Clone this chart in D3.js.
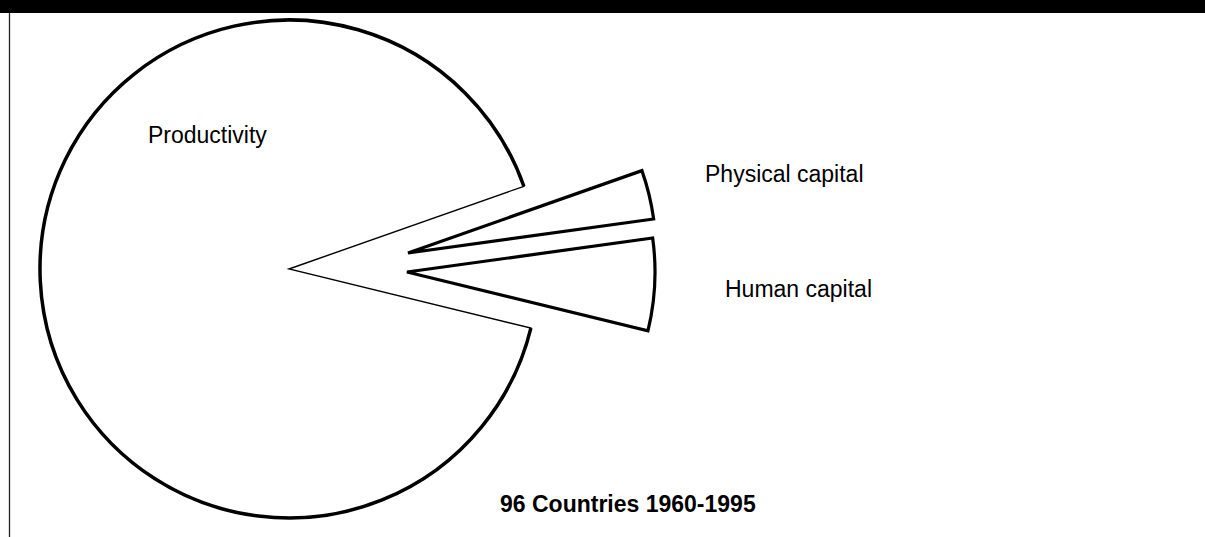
<!DOCTYPE html>
<html>
<head>
<meta charset="utf-8" />
<script src="https://d3js.org/d3.v7.min.js"></script>
<style>
	body { margin: 0; background: #fff; }
	text { font-family: "Liberation Sans", Arial, sans-serif; fill: #000; }
</style>
</head>
<body>
<div id="chart"></div>
<script>
	// shares of growth explained (percent)
	var categories = ["Physical capital", "Human capital", "Productivity"];
	var shares = [3.2, 6.0, 90.8];
	var title = "96 Countries 1960-1995";

	var width = 1205, height = 537;
	var cx = 289, cy = 269, radius = 249, explodedRadius = 248;

	// how far each slice is pulled out of the pie (px), and where its label sits relative to the centre
	var explode = [[119, -16], [118, 3], [0, 0]];
	var labelOffset = [[416, -87], [436, 28], [-141, -126]];

	var svg = d3.select("#chart")
		.append("svg")
		.attr("width", width)
		.attr("height", height);

	// black band on top and the thin frame line on the left
	svg.append("rect")
		.attr("x", 0).attr("y", 0)
		.attr("width", width).attr("height", 13)
		.attr("fill", "#000");
	svg.append("line")
		.attr("x1", 9.5).attr("x2", 9.5)
		.attr("y1", 13).attr("y2", height)
		.attr("stroke", "#222")
		.attr("stroke-width", 1.3);

	var start = 70.6 * Math.PI / 180;
	var pie = d3.pie()
		.sort(null)
		.value(function (d) { return d; })
		.startAngle(start)
		.endAngle(start + 2 * Math.PI);

	var slices = pie(shares);

	var g = svg.append("g")
		.attr("transform", "translate(" + cx + "," + cy + ")");

	var mainArc = d3.arc().innerRadius(0).outerRadius(radius);
	var rimArc = d3.arc().innerRadius(radius).outerRadius(radius);
	var smallArc = d3.arc().innerRadius(0).outerRadius(explodedRadius);

	g.selectAll(".slice")
		.data(slices)
		.enter()
		.append("path")
		.attr("class", "slice")
		.attr("transform", function (d, i) { return "translate(" + explode[i][0] + "," + explode[i][1] + ")"; })
		.attr("d", function (d, i) { return i === 2 ? mainArc(d) : smallArc(d); })
		.attr("fill", "#fff")
		.attr("stroke", "#000")
		.attr("stroke-linejoin", "miter")
		.attr("stroke-width", function (d, i) { return i === 2 ? 1.4 : 3.2; });

	// the big slice has a heavy rim but thin radial edges
	g.append("path")
		.attr("d", rimArc(slices[2]))
		.attr("fill", "none")
		.attr("stroke", "#000")
		.attr("stroke-width", 3.5);

	// labels
	g.selectAll(".label")
		.data(categories)
		.enter()
		.append("text")
		.attr("class", "label")
		.attr("x", function (d, i) { return labelOffset[i][0]; })
		.attr("y", function (d, i) { return labelOffset[i][1]; })
		.style("font-size", "23px")
		.text(function (d) { return d; });

	svg.append("text")
		.attr("x", 500)
		.attr("y", 512)
		.style("font-size", "23px")
		.style("font-weight", "bold")
		.text(title);
</script>
</body>
</html>
